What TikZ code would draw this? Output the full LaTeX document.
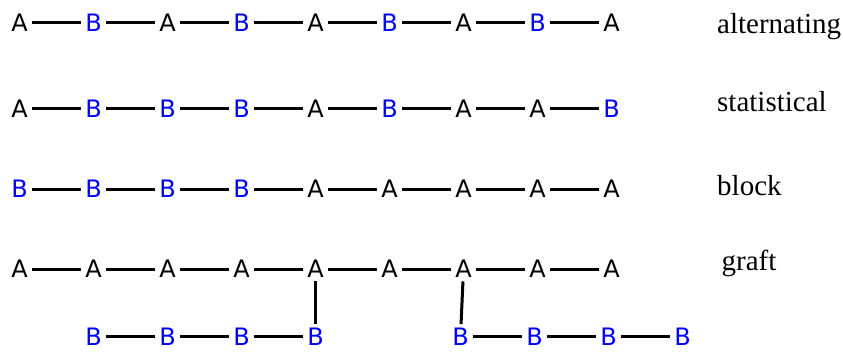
\documentclass[tikz,border=0pt]{standalone}
\usepackage{fontspec}
\setmainfont{Liberation Serif}
\newfontfamily\lettfont{DejaVu Sans}
\definecolor{monoB}{RGB}{0,0,255}
\begin{document}
\begin{tikzpicture}[x=1pt,y=-1pt,
  ltr/.style={font=\lettfont\fontsize{24}{24}\selectfont, inner xsep=4pt, inner ysep=0.5pt, text height=17.5pt, text depth=0pt, anchor=center},
  ltrA/.style={ltr, text=black},
  ltrB/.style={ltr, text=monoB},
  bond/.style={line width=3pt, black},
  vbond/.style={bond, shorten <=3pt, shorten >=3pt},
  lab/.style={font=\fontsize{29}{29}\selectfont, anchor=base west, inner sep=0pt}]
\useasboundingbox (0,0) rectangle (843,351);
% row 1: alternating
\foreach \l [count=\i] in {A,B,A,B,A,B,A,B,A}
  \node[ltr\l] (a\i) at ({19.5+74*(\i-1)},22.5) {\l};
% row 2: statistical
\foreach \l [count=\i] in {A,B,B,B,A,B,A,A,B}
  \node[ltr\l] (s\i) at ({19.5+74*(\i-1)},108.5) {\l};
% row 3: block
\foreach \l [count=\i] in {B,B,B,B,A,A,A,A,A}
  \node[ltr\l] (b\i) at ({19.5+74*(\i-1)},189) {\l};
% row 4: graft backbone
\foreach \l [count=\i] in {A,A,A,A,A,A,A,A,A}
  \node[ltr\l] (g\i) at ({19.5+74*(\i-1)},269) {\l};
% graft branches
\foreach \i in {1,...,4}
  \node[ltrB] (p\i) at ({93.5+74*(\i-1)},336.5) {B};
\foreach \i in {1,...,4}
  \node[ltrB] (q\i) at ({460.5+74*(\i-1)},336.5) {B};
% bonds
\foreach \i/\j in {1/2,2/3,3/4,4/5,5/6,6/7,7/8,8/9} {
  \draw[bond] (a\i) -- (a\j);
  \draw[bond] (s\i) -- (s\j);
  \draw[bond] (b\i) -- (b\j);
  \draw[bond] (g\i) -- (g\j);
}
\foreach \i/\j in {1/2,2/3,3/4} {
  \draw[bond] (p\i) -- (p\j);
  \draw[bond] (q\i) -- (q\j);
}
\draw[vbond] (g5) -- (p4);
\draw[vbond] (g7) -- (q1);
% labels
\node[lab] (l1) at (717,33) {alternating};
\node[lab] (l2) at (717,111) {statistical};
\node[lab] (l3) at (717,195) {block};
\node[lab] (l4) at (721.5,270) {graft};
\end{tikzpicture}
\end{document}
